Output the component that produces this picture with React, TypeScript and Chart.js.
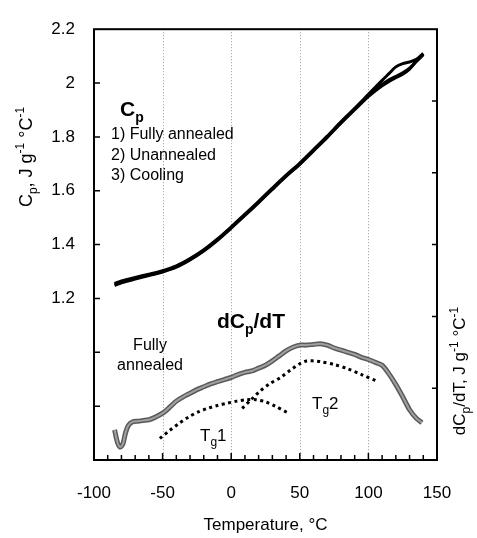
import React, { useEffect, useRef } from 'react';
import { Chart, registerables } from 'chart.js';
Chart.register(...registerables);

// ---- Cp curves (left axis, J g-1 °C-1) ----
const T_CP = [-85, -80, -70, -60, -50, -40, -30, -20, -10, 0, 10, 20, 30, 40, 50, 60, 70, 80, 90, 100, 110, 115, 120, 125, 130, 135, 140];
const CP_FULLY = [1.253, 1.262, 1.275, 1.287, 1.300, 1.318, 1.345, 1.378, 1.418, 1.463, 1.510, 1.558, 1.607, 1.655, 1.700, 1.750, 1.800, 1.853, 1.903, 1.953, 1.995, 2.012, 2.025, 2.038, 2.055, 2.080, 2.105];
const CP_UNANN = [1.248, 1.258, 1.272, 1.285, 1.298, 1.316, 1.343, 1.376, 1.416, 1.461, 1.508, 1.556, 1.605, 1.653, 1.698, 1.748, 1.798, 1.851, 1.901, 1.950, 1.990, 2.006, 2.020, 2.033, 2.052, 2.082, 2.108];
const CP_COOL = [1.256, 1.265, 1.278, 1.290, 1.303, 1.321, 1.348, 1.381, 1.421, 1.466, 1.513, 1.561, 1.610, 1.658, 1.703, 1.753, 1.803, 1.856, 1.906, 1.958, 2.010, 2.035, 2.060, 2.072, 2.078, 2.088, 2.110];

// ---- dCp/dT fully annealed (right axis, arbitrary units) ----
const T_D = [-85, -83, -81, -79, -77, -75, -72, -68, -64, -60, -56, -52, -48, -44, -40, -35, -30, -25, -20, -15, -10, -5, 0, 5, 10, 15, 20, 25, 30, 35, 40, 45, 50, 55, 60, 65, 70, 75, 80, 85, 90, 95, 100, 105, 110, 115, 120, 125, 130, 135, 139];
const DCP = [0.42, 0.25, 0.18, 0.22, 0.38, 0.48, 0.53, 0.54, 0.55, 0.56, 0.59, 0.63, 0.68, 0.75, 0.82, 0.88, 0.93, 0.98, 1.02, 1.06, 1.09, 1.12, 1.15, 1.19, 1.22, 1.24, 1.28, 1.32, 1.38, 1.45, 1.52, 1.57, 1.60, 1.60, 1.61, 1.62, 1.60, 1.56, 1.53, 1.50, 1.47, 1.43, 1.40, 1.36, 1.32, 1.20, 1.05, 0.88, 0.70, 0.58, 0.52];

// ---- deconvoluted Tg components (dotted) ----
const T_TG1 = [-52, -45, -38, -31, -24, -17, -10, -3, 4, 11, 18, 25, 32, 41];
const TG1 = [0.30, 0.41, 0.51, 0.60, 0.67, 0.72, 0.76, 0.79, 0.82, 0.84, 0.84, 0.81, 0.75, 0.66];
const T_TG2 = [8, 15, 21, 28, 36, 43, 50, 55, 60, 65, 75, 85, 95, 106];
const TG2 = [0.72, 0.85, 0.96, 1.06, 1.15, 1.25, 1.34, 1.38, 1.38, 1.37, 1.33, 1.27, 1.19, 1.10];

// ---- axis ticks ----
const X_GRID = [-50, 0, 50, 100];
const X_MAJOR = [-100, -50, 0, 50, 100, 150];
const X_MINOR = [-90, -80, -70, -60, -40, -30, -20, -10, 10, 20, 30, 40, 60, 70, 80, 90, 110, 120, 130, 140];
const Y_TICKS = [0.8, 1.0, 1.2, 1.4, 1.6, 1.8, 2.0];
const Y2_TICKS = [1, 2, 3, 4, 5];

const FONT = "'Liberation Sans', Arial, Helvetica, sans-serif";

type Seg = { t: string; k?: 'sub' | 'sup' };

function drawRich(ctx: CanvasRenderingContext2D, segs: Seg[], x: number, y: number, size: number, bold: boolean, align: 'left' | 'center') {
  const fontFor = (s: Seg) => `${bold ? 'bold ' : ''}${s.k ? Math.round(size * 0.68) : size}px ${FONT}`;
  let total = 0;
  for (const s of segs) { ctx.font = fontFor(s); total += ctx.measureText(s.t).width; }
  let cx = align === 'center' ? x - total / 2 : x;
  ctx.textAlign = 'left';
  ctx.textBaseline = 'alphabetic';
  for (const s of segs) {
    ctx.font = fontFor(s);
    const dy = s.k === 'sub' ? size * 0.28 : s.k === 'sup' ? -size * 0.42 : 0;
    ctx.fillText(s.t, cx, y + dy);
    cx += ctx.measureText(s.t).width;
  }
}

const decor = {
  id: 'decor',
  beforeDatasetsDraw(chart: any) {
    const { ctx, chartArea: a, scales } = chart;
    ctx.save();
    ctx.strokeStyle = '#9a9a9a';
    ctx.lineWidth = 1;
    ctx.setLineDash([1, 2]);
    for (const v of X_GRID) {
      const px = Math.round(scales.x.getPixelForValue(v)) + 0.5;
      ctx.beginPath(); ctx.moveTo(px, a.top); ctx.lineTo(px, a.bottom); ctx.stroke();
    }
    ctx.restore();
  },
  afterDatasetsDraw(chart: any) {
    const { ctx, chartArea: a, scales } = chart;
    ctx.save();
    ctx.strokeStyle = '#000';
    ctx.lineWidth = 2;
    ctx.strokeRect(a.left, a.top, a.right - a.left, a.bottom - a.top);
    ctx.lineWidth = 1.5;
    ctx.beginPath();
    for (const v of X_MAJOR) {
      const px = scales.x.getPixelForValue(v);
      ctx.moveTo(px, a.bottom); ctx.lineTo(px, a.bottom - 7);
    }
    for (const v of X_MINOR) {
      const px = scales.x.getPixelForValue(v);
      ctx.moveTo(px, a.bottom); ctx.lineTo(px, a.bottom - 5);
    }
    for (const v of Y_TICKS) {
      const py = scales.y.getPixelForValue(v);
      ctx.moveTo(a.left, py); ctx.lineTo(a.left + 6, py);
    }
    for (const v of Y2_TICKS) {
      const py = scales.y2.getPixelForValue(v);
      ctx.moveTo(a.right, py); ctx.lineTo(a.right - 5, py);
    }
    ctx.stroke();

    ctx.fillStyle = '#000';
    // Cp legend
    drawRich(ctx, [{ t: 'C' }, { t: 'p', k: 'sub' }], 120, 116, 21, true, 'left');
    ctx.font = `16px ${FONT}`;
    ctx.textAlign = 'left';
    ctx.textBaseline = 'middle';
    ctx.fillText('1) Fully annealed', 111, 135);
    ctx.fillText('2) Unannealed', 111, 156);
    ctx.fillText('3) Cooling', 111, 176);
    // dCp/dT label
    drawRich(ctx, [{ t: 'dC' }, { t: 'p', k: 'sub' }, { t: '/dT' }], 251, 328, 21, true, 'center');
    ctx.font = `16px ${FONT}`;
    ctx.textAlign = 'center';
    ctx.textBaseline = 'middle';
    ctx.fillText('Fully', 150, 346);
    ctx.fillText('annealed', 150, 366);
    drawRich(ctx, [{ t: 'T' }, { t: 'g', k: 'sub' }, { t: '1' }], 200, 441, 17, false, 'left');
    drawRich(ctx, [{ t: 'T' }, { t: 'g', k: 'sub' }, { t: '2' }], 312, 409, 17, false, 'left');

    // x title
    ctx.font = `17px ${FONT}`;
    ctx.textAlign = 'center';
    ctx.textBaseline = 'middle';
    ctx.fillText('Temperature, °C', (a.left + a.right) / 2, 525);

    // left title
    ctx.save();
    ctx.translate(32, 157);
    ctx.rotate(-Math.PI / 2);
    drawRich(ctx, [{ t: 'C' }, { t: 'p', k: 'sub' }, { t: ', J g' }, { t: '-1', k: 'sup' }, { t: ' °C' }, { t: '-1', k: 'sup' }], 0, 0, 18, false, 'center');
    ctx.restore();

    // right title
    ctx.save();
    ctx.translate(465, 371);
    ctx.rotate(-Math.PI / 2);
    drawRich(ctx, [{ t: 'dC' }, { t: 'p', k: 'sub' }, { t: '/dT, J g' }, { t: '-1', k: 'sup' }, { t: ' °C' }, { t: '-1', k: 'sup' }], 0, 0, 17, false, 'center');
    ctx.restore();
    ctx.restore();
  },
};

const pts = (xs: number[], ys: number[]) => xs.map((x, i) => ({ x, y: ys[i] }));

export default function App() {
  const ref = useRef<HTMLCanvasElement | null>(null);
  useEffect(() => {
    if (!ref.current) return;
    const cpLine = (data: number[]) => ({
      data: pts(T_CP, data), yAxisID: 'y', borderColor: '#000', borderWidth: 3,
      pointRadius: 0, tension: 0.3, fill: false,
    });
    const chart = new Chart(ref.current, {
      type: 'line',
      data: {
        datasets: [
          cpLine(CP_FULLY),
          cpLine(CP_UNANN),
          cpLine(CP_COOL),
          { data: pts(T_TG1, TG1), yAxisID: 'y2', borderColor: '#000', borderWidth: 3, borderDash: [3, 3.5], pointRadius: 0, tension: 0.3 },
          { data: pts(T_TG2, TG2), yAxisID: 'y2', borderColor: '#000', borderWidth: 3, borderDash: [3, 3.5], pointRadius: 0, tension: 0.3 },
          { data: pts(T_D, DCP), yAxisID: 'y2', borderColor: '#a0a0a0', borderWidth: 2, pointRadius: 0, tension: 0.25 },
          { data: pts(T_D, DCP), yAxisID: 'y2', borderColor: '#5a5a5a', borderWidth: 5, pointRadius: 0, tension: 0.25 },
        ] as any,
      },
      options: {
        animation: false,
        responsive: false,
        maintainAspectRatio: false,
        layout: { padding: { top: 22, left: 0, right: 0, bottom: 0 } },
        plugins: { legend: { display: false }, tooltip: { enabled: false } },
        scales: {
          x: {
            type: 'linear', position: 'bottom', min: -100, max: 150,
            grid: { display: false, drawTicks: false }, border: { display: false },
            ticks: { stepSize: 50, padding: 23, maxRotation: 0, color: '#000', font: { size: 17, family: FONT } },
            afterFit: (s: any) => { s.height = 78; },
          },
          y: {
            type: 'linear', position: 'left', min: 0.6, max: 2.2,
            grid: { display: false, drawTicks: false }, border: { display: false },
            ticks: {
              stepSize: 0.2, padding: 19, color: '#000', font: { size: 17, family: FONT },
              callback: (v: any) => (v >= 1.19 ? String(Math.round(v * 10) / 10) : ''),
            },
            afterFit: (s: any) => { s.width = 94; },
          },
          y2: {
            type: 'linear', position: 'right', min: 0, max: 6,
            grid: { display: false, drawTicks: false }, border: { display: false },
            ticks: { display: false, stepSize: 1 },
            afterFit: (s: any) => { s.width = 40; },
          },
        },
      } as any,
      plugins: [decor],
    });
    return () => chart.destroy();
  }, []);
  return (
    <div style={{ position: 'absolute', left: 0, top: 0, width: 477, height: 538, background: '#fff' }}>
      <canvas ref={ref} width={477} height={538} style={{ display: 'block' }} />
    </div>
  );
}
